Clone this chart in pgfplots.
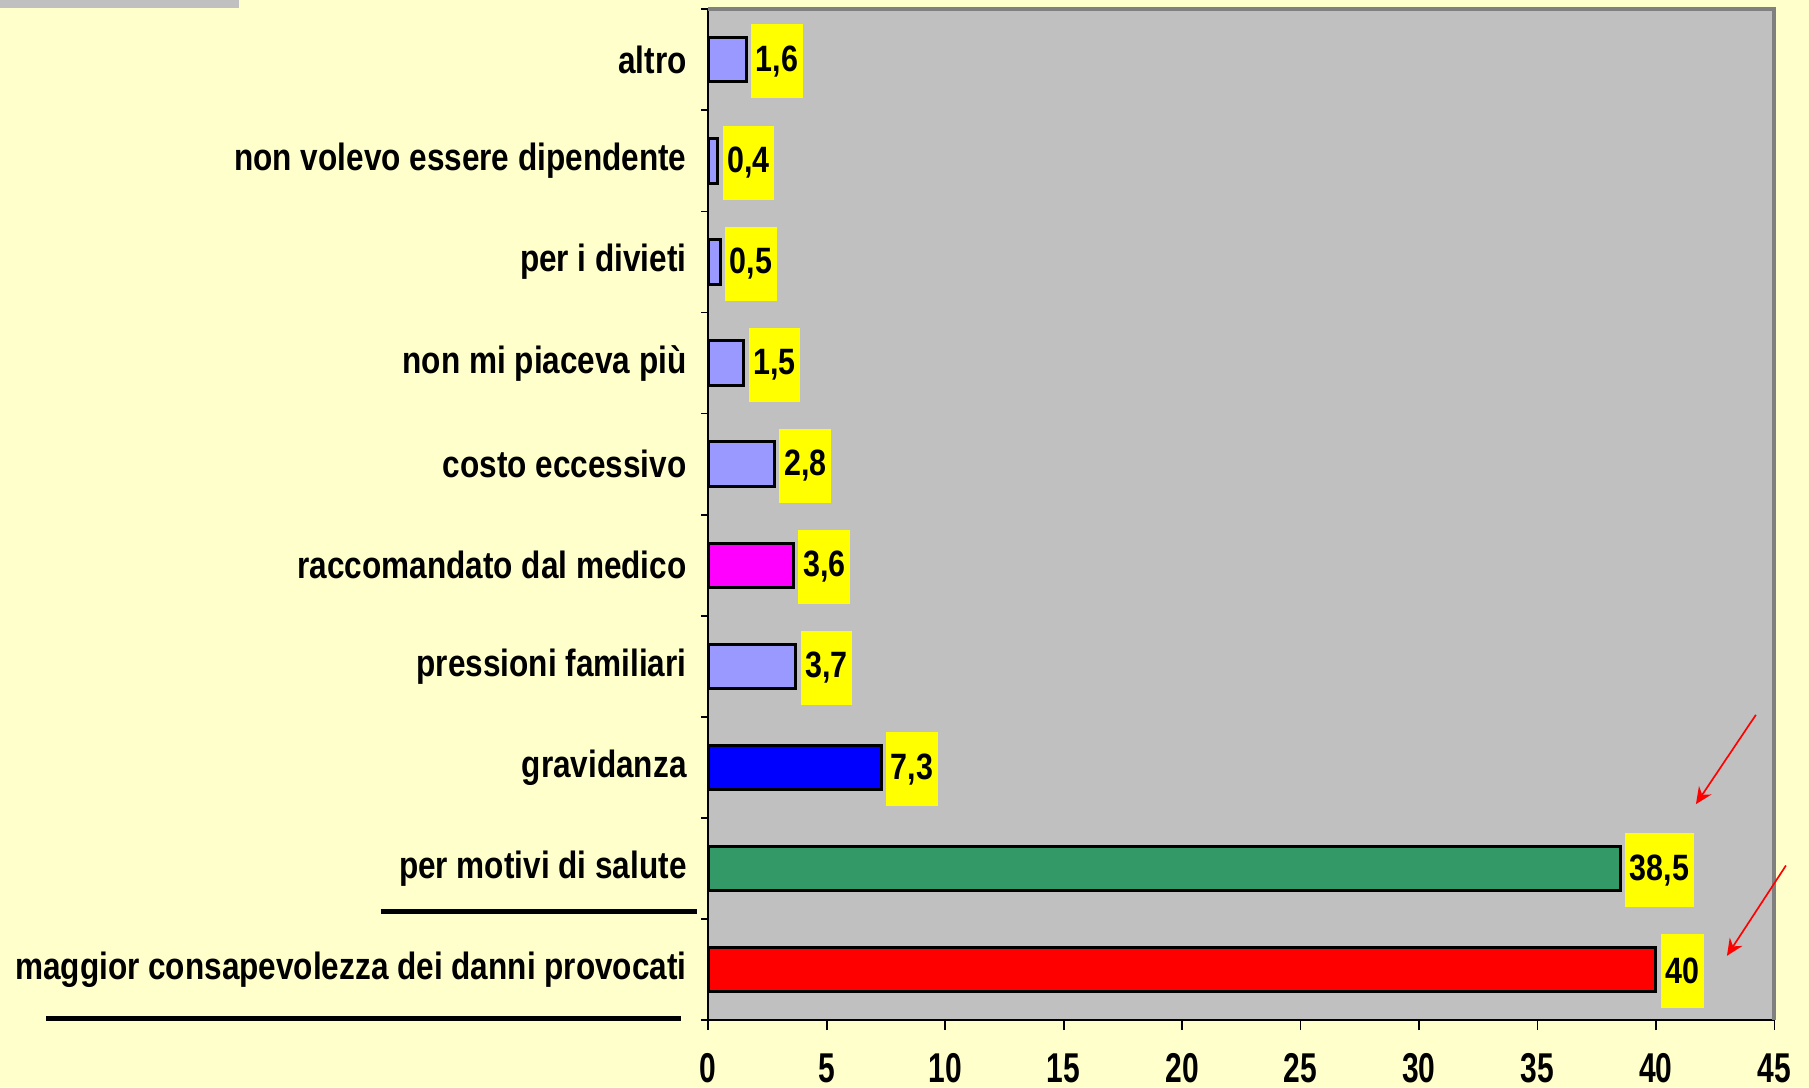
\documentclass[border=0pt]{standalone}
\usepackage{fontspec}
\setmainfont{Liberation Sans}
\newfontfamily\catfont{Liberation Sans}[FakeStretch=0.83]
\newfontfamily\tickfont{Liberation Sans}[FakeStretch=0.72]
\usepackage{pgfplots}
\pgfplotsset{compat=1.18}
\usetikzlibrary{arrows.meta,backgrounds}

\definecolor{bgyellow}{HTML}{FFFFCC}
\definecolor{plotgray}{HTML}{C0C0C0}
\definecolor{lavender}{HTML}{9999FF}
\definecolor{seagreen}{HTML}{339966}
\definecolor{pinkmag}{HTML}{FF00FF}
\definecolor{framegray}{HTML}{808080}
\definecolor{labelyellow}{HTML}{FFFF00}

\begin{document}
\begin{tikzpicture}[show background rectangle, inner frame sep=0pt,
  background rectangle/.style={fill=bgyellow, draw=none}]
% page = 1809 x 1087 px at 0.3pt per px; axis box lower left at (0,0)
\useasboundingbox (-212.5pt,-20.1pt) rectangle (330.2pt,306.06pt);
\begin{axis}[
  scale only axis,
  width=319.8pt, height=303.3pt,
  xbar, bar width=0.44,
  xmin=0, xmax=45, ymin=-0.5, ymax=9.5,
  xtick={0,5,...,45},
  ytick={0,...,9},
  yticklabels={maggior consapevolezza dei danni provocati, per motivi di salute, gravidanza, pressioni familiari, raccomandato dal medico, costo eccessivo, non mi piaceva più, per i divieti, non volevo essere dipendente, altro},
  minor ytick={-0.5,0.5,...,9.5},
  tick pos=left, tick align=outside,
  major tick length=3pt, minor tick length=2.1pt,
  major y tick style={draw=none},
  tick style={black, line width=0.5pt},
  xticklabel style={font=\tickfont\bfseries\fontsize{12.5}{14}\selectfont, anchor=base, yshift=-15.6pt},
  yticklabel style={font=\catfont\bfseries\fontsize{11.4}{13}\selectfont, xshift=0pt},
  /pgf/number format/assume math mode=true,
  axis background/.style={fill=plotgray},
  axis line style={black, line width=0.6pt},
  point meta=x,
  nodes near coords={\pgfmathprintnumber[use comma,fixed,precision=1]{\pgfplotspointmeta}},
  every node near coord/.append style={font=\catfont\bfseries\fontsize{11}{13}\selectfont,
    fill=labelyellow, draw=none, text=black,
    inner xsep=1.4pt, minimum height=22.2pt, anchor=west, xshift=1pt, yshift=-0.5pt},
  every axis plot/.append style={draw=black, line width=0.9pt, bar shift=0pt},
  clip=false,
]
\addplot[fill=red, bar shift=0pt] coordinates {(40,0)};
\addplot[fill=seagreen, bar shift=0pt] coordinates {(38.5,1)};
\addplot[fill=blue, bar shift=0pt] coordinates {(7.3,2)};
\addplot[fill=lavender, bar shift=0pt] coordinates {(3.7,3) (2.8,5) (1.5,6) (0.5,7) (0.4,8) (1.6,9)};
\addplot[fill=pinkmag, bar shift=0pt] coordinates {(3.6,4)};

\draw[framegray, line width=1.2pt] (rel axis cs:0,1) -- (rel axis cs:1,1) -- (rel axis cs:1,0);
\draw[black, line width=1.4pt] (axis cs:-13.83,0.573) -- (axis cs:-0.49,0.573);
\draw[black, line width=1.4pt] (axis cs:-27.95,-0.481) -- (axis cs:-1.17,-0.481);
\draw[red, line width=0.5pt, -{Stealth[length=5pt,width=4.5pt]}] (axis cs:44.22,2.52) -- (axis cs:41.69,1.637);
\draw[red, line width=0.5pt, -{Stealth[length=5pt,width=4.5pt]}] (axis cs:45.49,1.03) -- (axis cs:43.0,0.137);
\fill[plotgray] (rel axis cs:-0.6645,1.00913) rectangle (rel axis cs:-0.4405,1.0011);
\end{axis}
\end{tikzpicture}
\end{document}
